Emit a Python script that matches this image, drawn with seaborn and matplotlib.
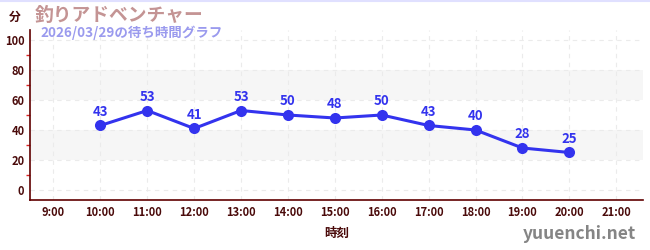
import matplotlib
matplotlib.use("Agg")
import matplotlib.pyplot as plt
import seaborn as sns
import pandas as pd
from matplotlib.ticker import MultipleLocator, FixedLocator

hours = [10, 11, 12, 13, 14, 15, 16, 17, 18, 19, 20]
waits = [43, 53, 41, 53, 50, 48, 50, 43, 40, 28, 25]
tick_hours = list(range(9, 22))
tick_labels = [f"{h}:00" for h in tick_hours]
title = "釣りアドベンチャー"
subtitle = "2026/03/29の待ち時間グラフ"
xlabel = "時刻"
ylabel = "分"
watermark = "yuuenchi.net"

sns.set_theme(style="white")
plt.rcParams['font.family'] = ['Noto Sans CJK JP', 'DejaVu Sans']

df = pd.DataFrame({"hour": hours, "wait": waits})

fig = plt.figure(figsize=(6.5, 2.5), dpi=100)
ax = fig.add_axes([30/650, 50/250, 613/650, 170/250])

# bands
for lo, hi in [(20, 40), (60, 80)]:
    ax.axhspan(lo, hi, color="#f6f6f6", zorder=0, lw=0)

sns.lineplot(data=df, x="hour", y="wait", ax=ax, color="#3333ee", lw=2.2,
             marker="o", markersize=8, markeredgewidth=0, zorder=3)

for h, w in zip(hours, waits):
    ax.annotate(str(w), (h, w), xytext=(0, 5), textcoords="offset points",
                ha="center", va="bottom", color="#3333ee", fontsize=9.5,
                fontweight="bold")

ax.set_xlim(8.5, 21.57)
ax.set_ylim(-6.67, 106.67)
ax.xaxis.set_major_locator(FixedLocator(tick_hours))
ax.set_xticklabels(tick_labels)
ax.yaxis.set_major_locator(MultipleLocator(20))
ax.yaxis.set_minor_locator(FixedLocator([10, 30, 50, 70, 90]))

ax.grid(True, which="major", color="#ebebeb", ls=(0, (4, 4)), lw=0.8)
for s in ["top", "right"]:
    ax.spines[s].set_visible(False)
for s in ["left", "bottom"]:
    ax.spines[s].set_color("#600000")
    ax.spines[s].set_linewidth(1.2)

ax.tick_params(axis="both", which="major", length=4, width=1, color="#555555",
               labelsize=8, labelcolor="#4a0a0a", direction="inout", pad=2)
ax.tick_params(axis="y", which="minor", length=3, width=1, color="#dd2222",
               left=True, direction="out")
for lab in ax.get_xticklabels() + ax.get_yticklabels():
    lab.set_fontweight("bold")

ax.set_xlabel(xlabel, fontsize=9, fontweight="bold", color="#4a0a0a", labelpad=6)
ax.set_ylabel("")

fig.text(15/650, 1 - 17/250, ylabel, fontsize=8.5, fontweight="bold",
         color="#4a0a0a", ha="center", va="center")
fig.text(35/650, 1 - 15/250, title, fontsize=13.5, fontweight="bold",
         color="#c49494", ha="left", va="center")
fig.text(40/650, 1 - 33/250, subtitle, fontsize=9.7, fontweight="bold",
         color="#9a9aee", ha="left", va="center")
fig.text(636/650, 1 - 234/250, watermark, fontsize=12.5, color="#858585",
         ha="right", va="center", fontweight="bold")

fig.add_artist(plt.Line2D([0, 1], [0.998, 0.998], transform=fig.transFigure,
                          color="#e0e0ff", lw=1.5))

fig.savefig("out.png", dpi=100)
